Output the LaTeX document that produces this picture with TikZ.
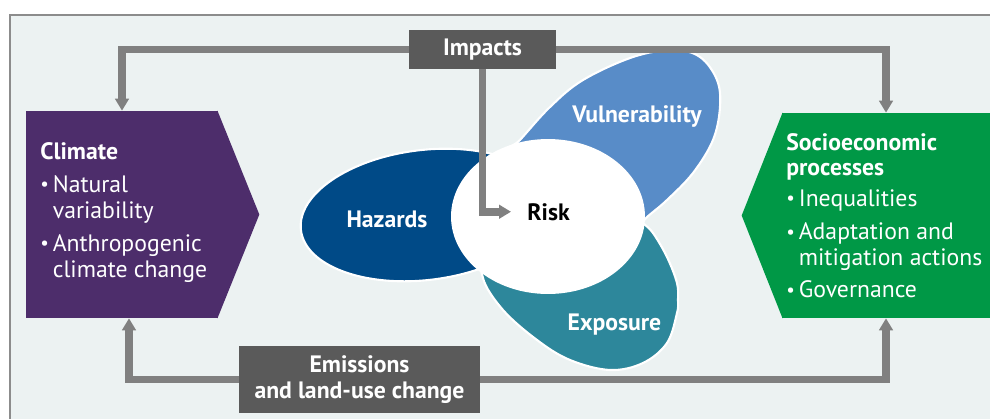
\documentclass[tikz,border=0pt]{standalone}
\usepackage{fontspec}
\setmainfont{PT Sans}
\usepackage{xcolor}
\usepackage{graphicx}
\usepackage{tikz}
\usetikzlibrary{shapes, arrows.meta, positioning}

\definecolor{fond}{HTML}{ECF2F2}
\definecolor{cadre}{HTML}{8C8C8C}
\definecolor{fleche}{HTML}{808080}
\definecolor{boitegris}{HTML}{5A5A5A}
\definecolor{climat}{HTML}{4D2D6B}
\definecolor{socio}{HTML}{009846}
\definecolor{danger}{HTML}{004A87}
\definecolor{vuln}{HTML}{588CC8}
\definecolor{expo}{HTML}{2D879B}

\newcommand{\puce}{\makebox[0.25cm][l]{\raisebox{0.15ex}{\scalebox{0.8}{\textbullet}}}}
\newcommand{\retrait}{\hspace*{0.25cm}}

\begin{document}
\begin{tikzpicture}[x=0.02cm, y=0.02cm,
		flux/.style={draw=fleche, line width=4.3pt},
		pointe/.style={-{Triangle[length=0.24cm, width=0.27cm]}},
		boite/.style={rectangle, fill=boitegris, text=white, align=center, inner sep=0pt, font=\bfseries\fontsize{13.5}{14.4}\selectfont},
		petale/.style={draw=white, line width=1.2pt},
		etiquette/.style={text=white, anchor=base, font=\bfseries\fontsize{13.5}{14.4}\selectfont},
		liste/.style={text=white, align=left, anchor=north west, inner sep=0pt, font=\fontsize{13.5}{14.5}\selectfont}]
		
		% --- Fond et cadre ---
		\useasboundingbox (0,0) rectangle (990,-419);
		\fill[fond] (10,-15) rectangle (990,-419);
		\draw[cadre, line width=0.6pt] (10,-419) -- (10,-15) -- (990,-15);
		
		% --- Petales (sous le cercle du risque) ---
		\filldraw[petale, fill=danger, rotate around={7:(425,-215)}] (425,-215) ellipse [x radius=125, y radius=65];
		\filldraw[petale, fill=vuln] plot[smooth cycle, tension=0.6] coordinates {(490,-173) (520,-140) (550,-107) (583,-80) (633,-57) (673,-50) (700,-57) (717,-80) (720,-107) (713,-140) (693,-173) (667,-200) (647,-217) (607,-251)};
		\filldraw[petale, fill=expo] plot[smooth cycle, tension=0.6] coordinates {(643,-223) (653,-233) (667,-257) (677,-283) (678,-300) (677,-313) (667,-343) (643,-363) (610,-370) (570,-360) (537,-340) (503,-310) (483,-278) (490,-255) (560,-205) (630,-210)};
		
		% --- Cercle blanc du risque ---
		\node[ellipse, fill=white, minimum width=3.88cm, minimum height=3.1cm, inner sep=0pt] (risk_zone) at (548,-216.5) {};
		
		% --- Etiquettes des petales ---
		\node[etiquette] (hazards) at (387,-227) {Hazards};
		\node[etiquette] (vulnerability) at (637,-122) {Vulnerability};
		\node[etiquette] (exposure) at (614.5,-330) {Exposure};
		\node[etiquette, text=black, inner xsep=0.32cm, inner ysep=0pt] (risk) at (548.5,-220) {Risk};
		
		% --- Bloc CLIMAT (a gauche) ---
		\node[rectangle, fill=climat, minimum width=3.84cm, minimum height=4.14cm, inner sep=0pt] (climat_box) at (122,-214.5) {};
		\fill[climat] ([xshift=-0.5pt]climat_box.north east) -- ([xshift=0.82cm]climat_box.east) -- ([xshift=-0.5pt]climat_box.south east) -- cycle;
		\node[liste] (climat_txt) at (40,-142) {\textbf{Climate}\\[4.5pt]
			\puce Natural\\ \retrait variability\\[4.5pt]
			\puce Anthropogenic\\ \retrait climate change};
		
		% --- Bloc SOCIO-ECONOMIQUE (a droite) ---
		\node[rectangle, fill=socio, minimum width=4.16cm, minimum height=4.1cm, inner sep=0pt] (socio_box) at (886,-215.5) {};
		\fill[socio] ([xshift=0.5pt]socio_box.north west) -- ([xshift=-0.8cm]socio_box.west) -- ([xshift=0.5pt]socio_box.south west) -- cycle;
		\node[liste] (socio_txt) at (786,-133) {\textbf{Socioeconomic}\\ \textbf{processes}\\[3pt]
			\puce Inequalities\\[4.5pt]
			\puce Adaptation and\\ \retrait mitigation actions\\[4pt]
			\puce Governance};
		
		% --- Boites grises ---
		\node[boite, minimum width=2.94cm, minimum height=0.78cm, text depth=0.1cm] (impacts) at (482.5,-49.5) {Impacts};
		\node[boite, minimum width=4.82cm, minimum height=1.34cm] (emissions) at (359.5,-379.5) {Emissions\\and land-use change};
		
		% --- Boucles de retour ---
		\draw[flux, pointe] (impacts.west) -| (climat_box.north);
		\draw[flux, pointe] (impacts.east) -| (socio_box.north);
		\draw[flux, pointe] (emissions.west) -| ([xshift=0.14cm]climat_box.south);
		\draw[flux, pointe] (emissions.east) -| (socio_box.south);
		
		% --- Fleche vers le risque ---
		\draw[flux, pointe] (impacts.south) |- (risk.west);
		
	\end{tikzpicture}
\end{document}
